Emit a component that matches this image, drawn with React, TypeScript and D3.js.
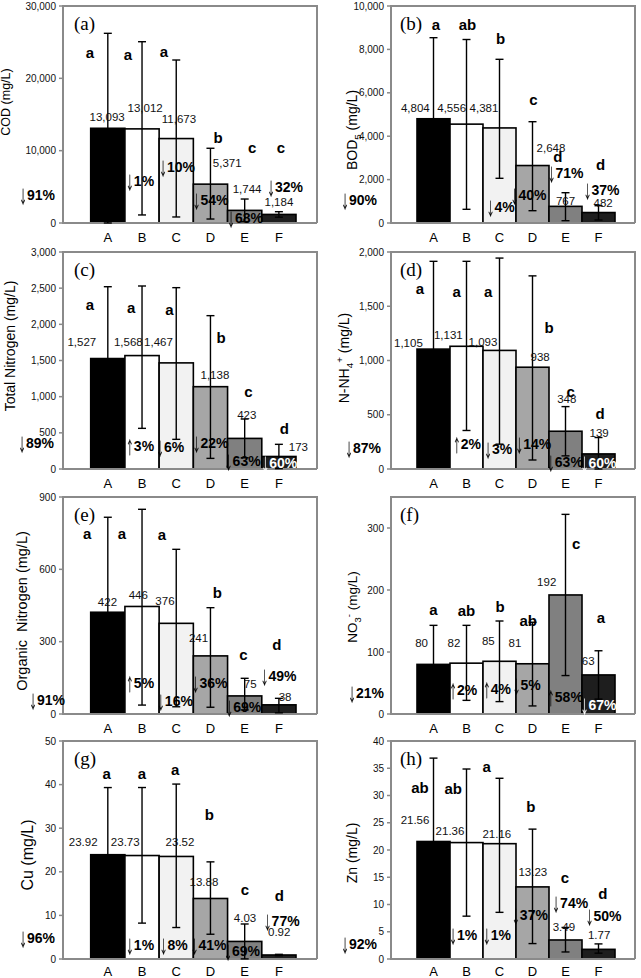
import React from 'react';
import * as d3 from 'd3';

const categories = ['A', 'B', 'C', 'D', 'E', 'F'];
const barFills = ['#000000', '#ffffff', '#f2f2f2', '#a6a6a6', '#808080', '#1e1e1e'];

// (a) COD
const codMean = [13093, 13012, 11673, 5371, 1744, 1184];
const codErrUp = [13130, 12050, 10860, 4960, 1570, 380];
const codErrDown = [13090, 11900, 10840, 4820, 1570, 380];
const codLetters = ['a', 'a', 'a', 'b', 'c', 'c'];
const codLetterDx = [-0.52, -0.41, -0.36, 0.22, 0.22, 0.06];
const codLetterY = [23500, 23200, 23640, 11750, 10370, 10370];
const codLabelDx = [-0.02, 0.09, 0.08, 0.49, 0.07, 0];
const codLabelY = [14650, 15900, 14380, 8300, 4700, 2900];
const codPct = [null, -1, -10, -54, -68, -32];
const codPctDx = [0, -0.06, 0.02, 0, 0.01, 0.18];
const codPctY = [0, 5800, 7740, 3180, 690, 4980];
const codOverall = -91;
const codOverallY = 3870;
const codTicks = [0, 10000, 20000, 30000];

// (b) BOD5
const bodMean = [4804, 4556, 4381, 2648, 767, 482];
const bodErrUp = [3736, 3900, 3162, 2020, 629, 315];
const bodErrDown = [3736, 3925, 2321, 2081, 661, 344];
const bodLetters = ['a', 'ab', 'b', 'c', 'd', 'd'];
const bodLetterDx = [0.07, 0.03, 0.03, 0.03, -0.23, 0.06];
const bodLetterY = [9124, 9124, 8479, 5668, 3055, 2673];
const bodLabelDx = [-0.55, -0.45, -0.47, 0.56, 0, 0.14];
const bodLabelY = [5285, 5285, 5285, 3470, 1014, 935];
const bodPct = [null, null, -4, -40, -71, -37];
const bodPctDx = [0, 0, 0.03, -0.12, 0, 0.09];
const bodPctY = [0, 0, 751, 1290, 2290, 1520];
const bodOverall = -90;
const bodOverallY = 1060;
const bodTicks = [0, 2000, 4000, 6000, 8000, 10000];

// (c) Total Nitrogen
const tnMean = [1527, 1568, 1467, 1138, 423, 173];
const tnErrUp = [993, 962, 1040, 982, 268, 168];
const tnErrDown = [993, 1006, 1057, 991, 268, 168];
const tnLetters = ['a', 'a', 'a', 'b', 'c', 'd'];
const tnLetterDx = [-0.52, -0.32, -0.2, 0.31, 0.11, 0.16];
const tnLetterY = [2267, 2226, 2208, 1821, 1069, 563];
const tnLabelDx = [-0.76, -0.4, -0.52, 0.13, 0.06, 0.57];
const tnLabelY = [1760, 1760, 1760, 1300, 747, 308];
const tnPct = [null, 3, -6, -22, -63, -60];
const tnPctDx = [0, -0.06, -0.18, 0, -0.06, 0.01];
const tnPctY = [0, 322, 308, 355, 111, 79];
const tnOverall = -89;
const tnOverallY = 355;
const tnTicks = [0, 500, 1000, 1500, 2000, 2500, 3000];

// (d) N-NH4+
const nhMean = [1105, 1131, 1093, 938, 348, 139];
const nhErrUp = [809, 783, 851, 842, 227, 151];
const nhErrDown = [809, 776, 864, 855, 227, 151];
const nhLetters = ['a', 'a', 'a', 'b', 'c', 'd'];
const nhLetterDx = [-0.41, -0.3, -0.34, 0.5, 0.16, 0.05];
const nhLetterY = [1664, 1632, 1632, 1303, 716, 506];
const nhLabelDx = [-0.76, -0.55, -0.5, 0.23, 0.04, 0.02];
const nhLabelY = [1157, 1234, 1173, 1031, 648, 330];
const nhPct = [null, 2, -3, -14, -63, -60];
const nhPctDx = [0, 0.01, -0.04, 0.02, -0.02, 0];
const nhPctY = [0, 229, 185, 229, 62, 53];
const nhOverall = -87;
const nhOverallY = 192;
const nhTicks = [0, 500, 1000, 1500, 2000];

// (e) Organic Nitrogen
const onMean = [422, 446, 376, 241, 75, 38];
const onErrUp = [394, 403, 307, 200, 73, 27];
const onErrDown = [394, 409, 346, 213, 58, 33];
const onLetters = ['a', 'a', 'a', 'b', 'c', 'd'];
const onLetterDx = [-0.6, -0.59, -0.42, 0.2, -0.04, -0.06];
const onLetterY = [749, 749, 745, 503, 245, 286];
const onLabelDx = [-0.01, -0.11, -0.33, -0.35, 0.16, 0.18];
const onLabelY = [466, 494, 469, 314, 123, 72];
const onPct = [null, 5, -16, -36, -69, -49];
const onPctDx = [0, -0.06, -0.04, -0.03, -0.04, -0.01];
const onPctY = [0, 127, 55, 127, 28, 159];
const onOverall = -91;
const onOverallY = 58;
const onTicks = [0, 300, 600, 900];

// (f) NO3-
const noMean = [80, 82, 85, 81, 192, 63];
const noErrUp = [63, 61, 65, 67, 130, 39];
const noErrDown = [63, 60, 65, 68, 130, 39];
const noLetters = ['a', 'ab', 'b', 'ab', 'c', 'a'];
const noLetterDx = [0, 0, 0.02, -0.13, 0.32, 0.07];
const noLetterY = [168, 167, 173, 150, 274, 155];
const noLabelDx = [-0.36, -0.38, -0.34, -0.53, -0.57, -0.31];
const noLabelY = [114, 114, 117, 114, 213, 85];
const noPct = [null, 2, 4, -5, 58, -67];
const noPctDx = [0, -0.1, -0.08, -0.18, -0.02, 0];
const noPctY = [0, 39, 40, 47, 27, 15];
const noOverall = -21;
const noOverallY = 34;
const noTicks = [0, 100, 200, 300];

// (g) Cu
const cuMean = [23.92, 23.73, 23.52, 13.88, 4.03, 0.92];
const cuErrUp = [15.4, 15.6, 16.6, 8.4, 4.0, 0.15];
const cuErrDown = [15.4, 15.5, 16.3, 8.2, 4.0, 0.15];
const cuLetters = ['a', 'a', 'a', 'b', 'c', 'd'];
const cuLetterDx = [-0.03, 0, -0.03, -0.03, 0.01, 0.01];
const cuLetterY = [42.6, 42.6, 43.5, 33, 15.9, 14.4];
const cuLabelDx = [-0.72, -0.49, 0.11, -0.19, 0.01, 0.01];
const cuLabelY = [26.9, 26.9, 26.9, 17.7, 9.5, 6.15];
const cuPct = [null, -1, -8, -41, -69, -77];
const cuPctDx = [0, -0.06, -0.08, -0.06, -0.08, 0.08];
const cuPctY = [0, 3.2, 3.2, 3.2, 1.7, 8.6];
const cuOverall = -96;
const cuOverallY = 4.8;
const cuTicks = [0, 10, 20, 30, 40, 50];

// (h) Zn
const znMean = [21.56, 21.36, 21.16, 13.23, 3.49, 1.77];
const znErrUp = [15.3, 13.5, 12.0, 10.6, 2.3, 1.0];
const znErrDown = [15.3, 13.5, 12.6, 10.4, 2.2, 0.7];
const znLetters = ['ab', 'ab', 'a', 'b', 'c', 'd'];
const znLetterDx = [-0.41, -0.4, -0.39, -0.05, -0.02, 0.13];
const znLetterY = [31.4, 31.3, 35.2, 27.9, 15.0, 11.9];
const znLabelDx = [-0.56, -0.5, -0.08, 0.01, -0.05, 0.02];
const znLabelY = [25.5, 23.5, 22.9, 15.9, 5.9, 4.4];
const znPct = [null, -1, -1, -37, -74, -50];
const znPctDx = [0, -0.1, -0.08, -0.08, 0.14, 0.15];
const znPctY = [0, 4.4, 4.4, 8.0, 10.2, 7.8];
const znOverall = -92;
const znOverallY = 2.8;
const znTicks = [0, 5, 10, 15, 20, 25, 30, 35, 40];

// layout
const colAxisX = [63, 391];
const colBarRange = [[90.7, 296], [417, 615]];
const colRight = [317, 635];
const rowExtent = [[6, 223], [252, 469], [497, 714], [741, 959]];

type Seg = [string, string | null];

const panels = [
  { tag: '(a)', col: 0, row: 0, max: 30000, ticks: codTicks, dec: false, mean: codMean, up: codErrUp, down: codErrDown, letters: codLetters, lDx: codLetterDx, lY: codLetterY, vDx: codLabelDx, vY: codLabelY, pct: codPct, pDx: codPctDx, pY: codPctY, overall: codOverall, overallY: codOverallY,
    title: [['COD (mg/L)', null]] as Seg[], titleX: 10, titleY: 102, titleSize: 12.5, overallDx: -8 },
  { tag: '(b)', col: 1, row: 0, max: 10000, ticks: bodTicks, dec: false, mean: bodMean, up: bodErrUp, down: bodErrDown, letters: bodLetters, lDx: bodLetterDx, lY: bodLetterY, vDx: bodLabelDx, vY: bodLabelY, pct: bodPct, pDx: bodPctDx, pY: bodPctY, overall: bodOverall, overallY: bodOverallY,
    title: [['BOD', null], ['5', 'sub'], [' (mg/L)', null]] as Seg[], titleX: 357, titleY: 130, titleSize: 14, overallDx: -14 },
  { tag: '(c)', col: 0, row: 1, max: 3000, ticks: tnTicks, dec: false, mean: tnMean, up: tnErrUp, down: tnErrDown, letters: tnLetters, lDx: tnLetterDx, lY: tnLetterY, vDx: tnLabelDx, vY: tnLabelY, pct: tnPct, pDx: tnPctDx, pY: tnPctY, overall: tnOverall, overallY: tnOverallY,
    title: [['Total Nitrogen (mg/L)', null]] as Seg[], titleX: 15, titleY: 346, titleSize: 14, overallDx: -9 },
  { tag: '(d)', col: 1, row: 1, max: 2000, ticks: nhTicks, dec: false, mean: nhMean, up: nhErrUp, down: nhErrDown, letters: nhLetters, lDx: nhLetterDx, lY: nhLetterY, vDx: nhLabelDx, vY: nhLabelY, pct: nhPct, pDx: nhPctDx, pY: nhPctY, overall: nhOverall, overallY: nhOverallY,
    title: [['N-NH', null], ['4', 'sub'], ['+', 'sup'], [' (mg/L)', null]] as Seg[], titleX: 349, titleY: 358, titleSize: 14, overallDx: -10 },
  { tag: '(e)', col: 0, row: 2, max: 900, ticks: onTicks, dec: false, mean: onMean, up: onErrUp, down: onErrDown, letters: onLetters, lDx: onLetterDx, lY: onLetterY, vDx: onLabelDx, vY: onLabelY, pct: onPct, pDx: onPctDx, pY: onPctY, overall: onOverall, overallY: onOverallY,
    title: [['Organic\u00a0 Nitrogen (mg/L)', null]] as Seg[], titleX: 27, titleY: 611, titleSize: 14.5, overallDx: 2 },
  { tag: '(f)', col: 1, row: 2, max: 350, ticks: noTicks, dec: false, mean: noMean, up: noErrUp, down: noErrDown, letters: noLetters, lDx: noLetterDx, lY: noLetterY, vDx: noLabelDx, vY: noLabelY, pct: noPct, pDx: noPctDx, pY: noPctY, overall: noOverall, overallY: noOverallY,
    title: [['NO', null], ['3', 'sub'], ['-', 'sup'], [' (mg/L)', null]] as Seg[], titleX: 357, titleY: 607, titleSize: 13.5, overallDx: -7 },
  { tag: '(g)', col: 0, row: 3, max: 50, ticks: cuTicks, dec: true, mean: cuMean, up: cuErrUp, down: cuErrDown, letters: cuLetters, lDx: cuLetterDx, lY: cuLetterY, vDx: cuLabelDx, vY: cuLabelY, pct: cuPct, pDx: cuPctDx, pY: cuPctY, overall: cuOverall, overallY: cuOverallY,
    title: [['Cu (mg/L)', null]] as Seg[], titleX: 33, titleY: 855, titleSize: 16, overallDx: -8 },
  { tag: '(h)', col: 1, row: 3, max: 40, ticks: znTicks, dec: true, mean: znMean, up: znErrUp, down: znErrDown, letters: znLetters, lDx: znLetterDx, lY: znLetterY, vDx: znLabelDx, vY: znLabelY, pct: znPct, pDx: znPctDx, pY: znPctY, overall: znOverall, overallY: znOverallY,
    title: [['Zn (mg/L)', null]] as Seg[], titleX: 357, titleY: 853, titleSize: 14, overallDx: -14 },
];

const fmtComma = d3.format(',');
const fmt2 = d3.format('.2f');
const SANS = 'Liberation Sans, Arial, Helvetica, sans-serif';
const SERIF = 'Liberation Serif, Times New Roman, serif';
const ARROW_FONT = '"Noto Sans CJK SC", "Noto Sans CJK JP", sans-serif';
const GREY = '#8a8a8a';
const PCT_SIZE = 14;
const ARROW_W = 8;

function PctLabel({ x, y, v, anchor, fill }: { x: number; y: number; v: number; anchor: string; fill: string }) {
  const txt = Math.abs(v) + '%';
  const digits = txt.length - 1;
  const textW = (digits * 0.556 + 0.889) * PCT_SIZE;
  const total = ARROW_W + textW;
  const x0 = anchor === 'end' ? x - total : x - total / 2;
  const base = PCT_SIZE * 0.35;
  return (
    <g transform={`translate(${x0},${y + base})`} fill={fill}>
      <text transform="translate(0,3) scale(0.58,1.25)" filter="url(#grayAA)" fontFamily={ARROW_FONT} fontSize={PCT_SIZE} fontWeight="normal" stroke={fill} strokeWidth={0.2}>
        {v < 0 ? '\u2193' : '\u2191'}
      </text>
      <text x={ARROW_W} fontFamily={SANS} fontSize={PCT_SIZE} fontWeight="bold">{txt}</text>
    </g>
  );
}

function Title({ segs, x, y, size }: { segs: Seg[]; x: number; y: number; size: number }) {
  const children: any[] = [];
  let shift = 0;
  segs.forEach((s, i) => {
    const [t, kind] = s;
    let target = 0;
    let fs = size;
    if (kind === 'sub') { target = size * 0.3; fs = size * 0.7; }
    if (kind === 'sup') { target = -size * 0.4; fs = size * 0.7; }
    const dy = target - shift;
    shift = target;
    children.push(<tspan key={i} dy={dy} fontSize={fs}>{t}</tspan>);
  });
  return (
    <text transform={`translate(${x},${y}) rotate(-90)`} textAnchor="middle" dy="0.35em" fontFamily={SANS} fontSize={size} fill="#000" style={{ whiteSpace: 'pre' }}>
      {children}
    </text>
  );
}

function Panel({ p }: { p: typeof panels[number] }) {
  const axisX = colAxisX[p.col];
  const right = colRight[p.col];
  const [top, bottom] = rowExtent[p.row];
  const x = d3.scaleBand<string>().domain(categories).range(colBarRange[p.col] as [number, number]).padding(0);
  const y = d3.scaleLinear().domain([0, p.max]).range([bottom, top]);
  const bw = x.bandwidth();
  const cx = (c: string) => (x(c) as number) + bw / 2;
  const fmt = p.dec ? fmt2 : fmtComma;
  return (
    <g>
      <line x1={axisX} x2={right} y1={top} y2={top} stroke={GREY} strokeWidth={2} />
      <line x1={right} x2={right} y1={top - 1} y2={bottom} stroke={GREY} strokeWidth={2} />
      {categories.map((c, i) => (
        <rect key={'b' + c} x={x(c)} y={y(p.mean[i])} width={bw} height={bottom - y(p.mean[i])} fill={barFills[i]} stroke="#000" strokeWidth={1.6} />
      ))}
      <line x1={axisX} x2={right} y1={bottom} y2={bottom} stroke={GREY} strokeWidth={2} />
      <line x1={axisX} x2={axisX} y1={top - 1} y2={bottom + 1} stroke={GREY} strokeWidth={2} />
      {p.ticks.map((t) => (
        <g key={'t' + t}>
          <line x1={axisX - 4} x2={axisX} y1={y(t)} y2={y(t)} stroke={GREY} strokeWidth={1.5} />
          <text x={axisX - 7} y={y(t)} dy="0.35em" textAnchor="end" fontFamily={SANS} fontSize={10} fill="#111">{fmtComma(t)}</text>
        </g>
      ))}
      {categories.map((c) => (
        <text key={'x' + c} x={cx(c)} y={Math.min(976, bottom + 19)} textAnchor="middle" fontFamily={SANS} fontSize={13} fill="#000">{c}</text>
      ))}
      {categories.map((c, i) => {
        const yt = y(p.mean[i] + p.up[i]);
        const yb = y(Math.max(0, p.mean[i] - p.down[i]));
        const xc = cx(c);
        return (
          <g key={'e' + c} stroke="#000" strokeWidth={1.4}>
            <line x1={xc} x2={xc} y1={yt} y2={yb} />
            <line x1={xc - 4} x2={xc + 4} y1={yt} y2={yt} />
            <line x1={xc - 4} x2={xc + 4} y1={yb} y2={yb} />
          </g>
        );
      })}
      <text x={axisX + (p.col === 0 ? 11 : 9)} y={top + 17} dy="0.35em" fontFamily={SERIF} fontSize={19} fill="#000">{p.tag}</text>
      {categories.map((c, i) => (
        <text key={'l' + c} x={cx(c) + p.lDx[i] * bw} y={y(p.lY[i])} dy="0.35em" textAnchor="middle" fontFamily={SANS} fontSize={15} fontWeight="bold" fill="#000">{p.letters[i]}</text>
      ))}
      {categories.map((c, i) => (
        <text key={'v' + c} x={cx(c) + p.vDx[i] * bw} y={y(p.vY[i])} dy="0.35em" textAnchor="middle" fontFamily={SANS} fontSize={11.5} fill="#111">{fmt(p.mean[i])}</text>
      ))}
      {categories.map((c, i) => {
        const v = p.pct[i];
        if (v === null || v === undefined) return null;
        const inside = p.pY[i] < p.mean[i];
        const dark = i === 0 || i === 5;
        return <PctLabel key={'p' + c} x={cx(c) + p.pDx[i] * bw} y={y(p.pY[i])} v={v} anchor="middle" fill={inside && dark ? '#fff' : '#000'} />;
      })}
      <PctLabel x={axisX + p.overallDx} y={y(p.overallY)} v={p.overall} anchor="end" fill="#000" />
      <Title segs={p.title} x={p.titleX} y={p.titleY} size={p.titleSize} />
    </g>
  );
}

export default function App() {
  return (
    <svg width={641} height={978} style={{ position: 'absolute', left: 0, top: 0, background: '#fff' }}>
      <defs>
        <filter id="grayAA" x="-50%" y="-50%" width="200%" height="200%">
          <feOffset dx={0} dy={0} />
        </filter>
      </defs>
      <rect x={0} y={0} width={641} height={978} fill="#fff" />
      {panels.map((p) => (
        <Panel key={p.tag} p={p} />
      ))}
    </svg>
  );
}
